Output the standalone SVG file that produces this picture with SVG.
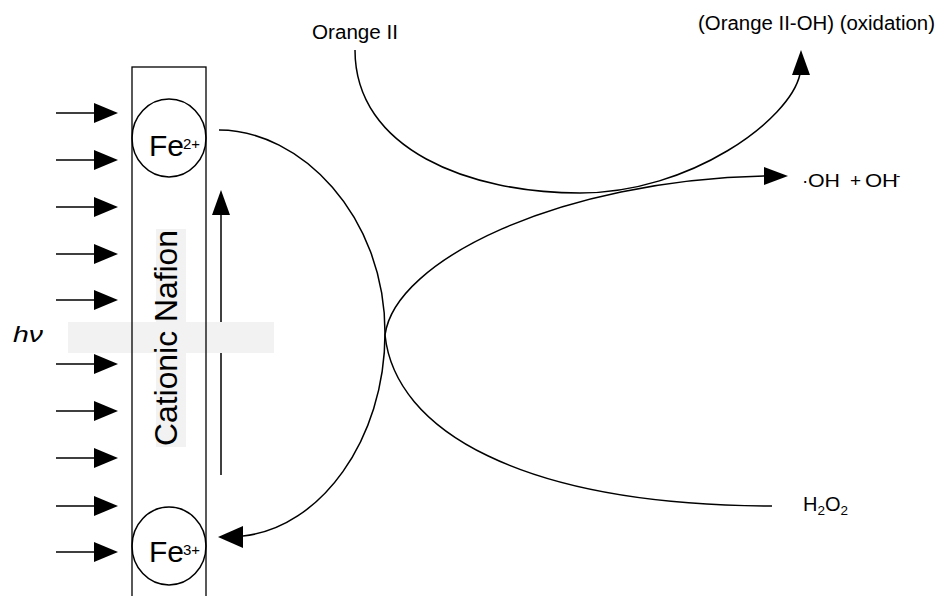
<svg xmlns="http://www.w3.org/2000/svg" width="941" height="596" viewBox="0 0 941 596">
<style>
.t{font-family:"Liberation Sans",Arial,sans-serif;fill:#000}
.ln{fill:none;stroke:#000;stroke-width:1.5}
.ah{fill:#000;stroke:none}
.bg{fill:#f2f2f2;stroke:none}
</style>
<rect width="941" height="596" fill="#fff"/>
<g id="light-arrows">
<g id="photon-arrows" class="ln">
<path d="M56,113H96M56,160H96M56,207H96M56,254H96M56,300H96M56,364H96M56,411H96M56,458H96M56,506H96M56,552H96"/>
</g>
<g class="ah">
<polygon points="94,103 118,113 94,123"/>
<polygon points="94,150 118,160 94,170"/>
<polygon points="94,197 118,207 94,217"/>
<polygon points="94,244 118,254 94,264"/>
<polygon points="94,290 118,300 94,310"/>
<polygon points="94,354 118,364 94,374"/>
<polygon points="94,401 118,411 94,421"/>
<polygon points="94,448 118,458 94,468"/>
<polygon points="94,496 118,506 94,516"/>
<polygon points="94,542 118,552 94,562"/>
</g>
</g>
<g id="up-arrow">
<path class="ln" d="M221,475V212"/>
<polygon class="ah" points="212,215 221,190 230,215"/>
</g>
<rect id="band" class="bg" x="68" y="322" width="206" height="31"/>
<g id="hv"><text class="t" x="13" y="342" font-size="22" font-style="italic" textLength="30" lengthAdjust="spacingAndGlyphs">hν</text></g>
<g id="nafion">
<rect x="132" y="67" width="74" height="540" fill="none" stroke="#000" stroke-width="1.3"/>
<rect class="bg" x="156" y="229" width="30" height="218"/>
<text class="t" font-size="31" transform="translate(177,446) rotate(-90)" textLength="216" lengthAdjust="spacingAndGlyphs">Cationic Nafion</text>
</g>
<g id="fe2">
<ellipse cx="169" cy="138" rx="37" ry="39" fill="none" stroke="#000" stroke-width="1.5"/>
<text class="t" x="149" y="156" font-size="30">Fe</text>
<text class="t" x="183" y="149" font-size="15">2+</text>
</g>
<g id="fe3">
<ellipse cx="169" cy="546" rx="37" ry="39" fill="none" stroke="#000" stroke-width="1.5"/>
<text class="t" x="149" y="562" font-size="30">Fe</text>
<text class="t" x="183" y="555" font-size="15">3+</text>
</g>
<g id="orange"><text class="t" x="312" y="39" font-size="20" textLength="86" lengthAdjust="spacingAndGlyphs">Orange II</text></g>
<g id="orange-oh"><text class="t" x="698" y="30" font-size="19.5" textLength="237" lengthAdjust="spacingAndGlyphs">(Orange II-OH) (oxidation)</text></g>
<g id="oh"><text class="t" y="187" font-size="19"><tspan x="802">·</tspan><tspan x="808" textLength="32" lengthAdjust="spacingAndGlyphs">OH</tspan><tspan x="850">+</tspan><tspan x="865" textLength="33" lengthAdjust="spacingAndGlyphs">OH</tspan><tspan x="896" y="180" font-size="13">-</tspan></text></g>
<g id="h2o2"><text class="t" x="803" y="511" font-size="20">H<tspan font-size="13.5" dy="4">2</tspan><tspan dy="-4">O</tspan><tspan font-size="13.5" dy="4">2</tspan></text></g>
<g id="connectors">
<path class="ln" d="M219,130C300,130 385,215 385,333C385,440 320,528 243,536"/>
<polygon class="ah" points="243,526 218,537 243,548"/>
<path class="ln" d="M355,50C355,150 470,193 580,193C690,193 790,120 800,74"/>
<polygon class="ah" points="792,75 801,50 810,75"/>
<path class="ln" d="M385,335C395,260 560,180 766,176"/>
<polygon class="ah" points="764,167 788,176 764,185"/>
<path class="ln" d="M385,335C395,430 520,505 772,506"/>
</g>
</svg>
